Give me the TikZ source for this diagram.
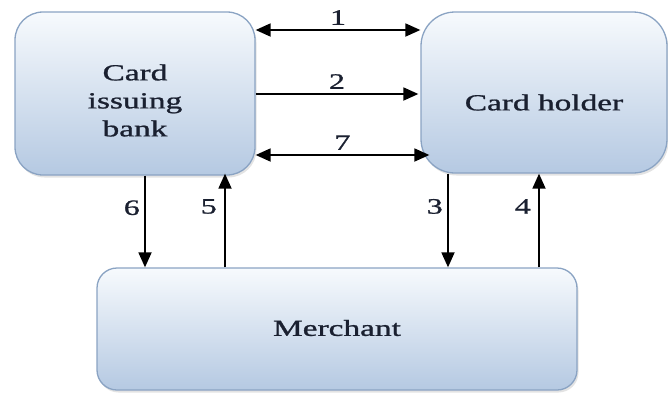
\documentclass[tikz,border=0pt]{standalone}
\usepackage{fontspec}
\setmainfont{Liberation Serif}
\newfontfamily\heavy{Liberation Serif}[FakeBold=0.9]
\usetikzlibrary{arrows.meta,calc,shadows}
\definecolor{boxtop}{HTML}{F7FAFD}
\definecolor{boxbot}{HTML}{B5C9E2}
\definecolor{boxline}{HTML}{8AA3C3}
\definecolor{ink}{HTML}{1A2030}
\newcommand{\wide}[1]{\scalebox{1.45}[1]{#1}}
\tikzset{
  tip/.tip={Triangle[length=15pt,width=13pt]},
  party/.style={draw=boxline, line width=1.3pt, top color=boxtop, bottom color=boxbot,
    rounded corners=28pt,
    drop shadow={opacity=0.22, shadow xshift=1.5pt, shadow yshift=-2.5pt}},
  title/.style={text=ink, align=center, font=\heavy\fontsize{23}{28}\selectfont},
  flow/.style={line width=1.8pt, -tip},
  both/.style={line width=1.8pt, tip-tip},
  num/.style={text=ink, font=\heavy\fontsize{22}{22}\selectfont}
}
\begin{document}
\begin{tikzpicture}[x=1pt,y=-1pt]
\useasboundingbox (0,0) rectangle (668,394);
% the three parties
\node[party, minimum width=240pt, minimum height=163pt] (bank) at (135,93.5) {};
\node[party, minimum width=246pt, minimum height=161pt, rounded corners=34pt] (holder) at (544,92.5) {};
\node[party, minimum width=480pt, minimum height=122pt, rounded corners=20pt] (merchant) at (337,329) {};
\node[title] (banktext) at ($(bank.center)+(0,7)$) {\wide{Card}\\\wide{issuing}\\\wide{bank}};
\node[title] (holdertext) at ($(holder.center)+(0,10)$) {\wide{Card holder}};
\node[title] (merchanttext) at ($(merchant.center)+(0,-1)$) {\wide{Merchant}};
% bank <-> card holder
\draw[both] (bank.east |- 0,30) -- (holder.west |- 0,30)
  node[num, midway, above=1pt] {\wide{1}};
\draw[flow] (bank.east |- 0,94) -- ($(holder.west |- 0,94)+(-2,0)$)
  node[num, midway, above=1pt] {\wide{2}};
\draw[both] (bank.east |- 0,155) -- ($(holder.west |- 0,155)+(9,0)$)
  node[num, midway, above=1pt] {\wide{7}};
% bank <-> merchant
\draw[flow] (bank.south -| 145,0) -- (merchant.north -| 145,0)
  node[num, pos=0.35, left=1pt] {\wide{6}};
\draw[flow] (merchant.north -| 225,0) -- ($(bank.south -| 225,0)+(0,-2)$)
  node[num, pos=0.65, left=4pt] {\wide{5}};
% card holder <-> merchant
\draw[flow] (holder.south -| 448,0) -- (merchant.north -| 448,0)
  node[num, pos=0.35, left=1pt] {\wide{3}};
\draw[flow] (merchant.north -| 539,0) -- (holder.south -| 539,0)
  node[num, pos=0.65, left=4pt] {\wide{4}};
\end{tikzpicture}
\end{document}
